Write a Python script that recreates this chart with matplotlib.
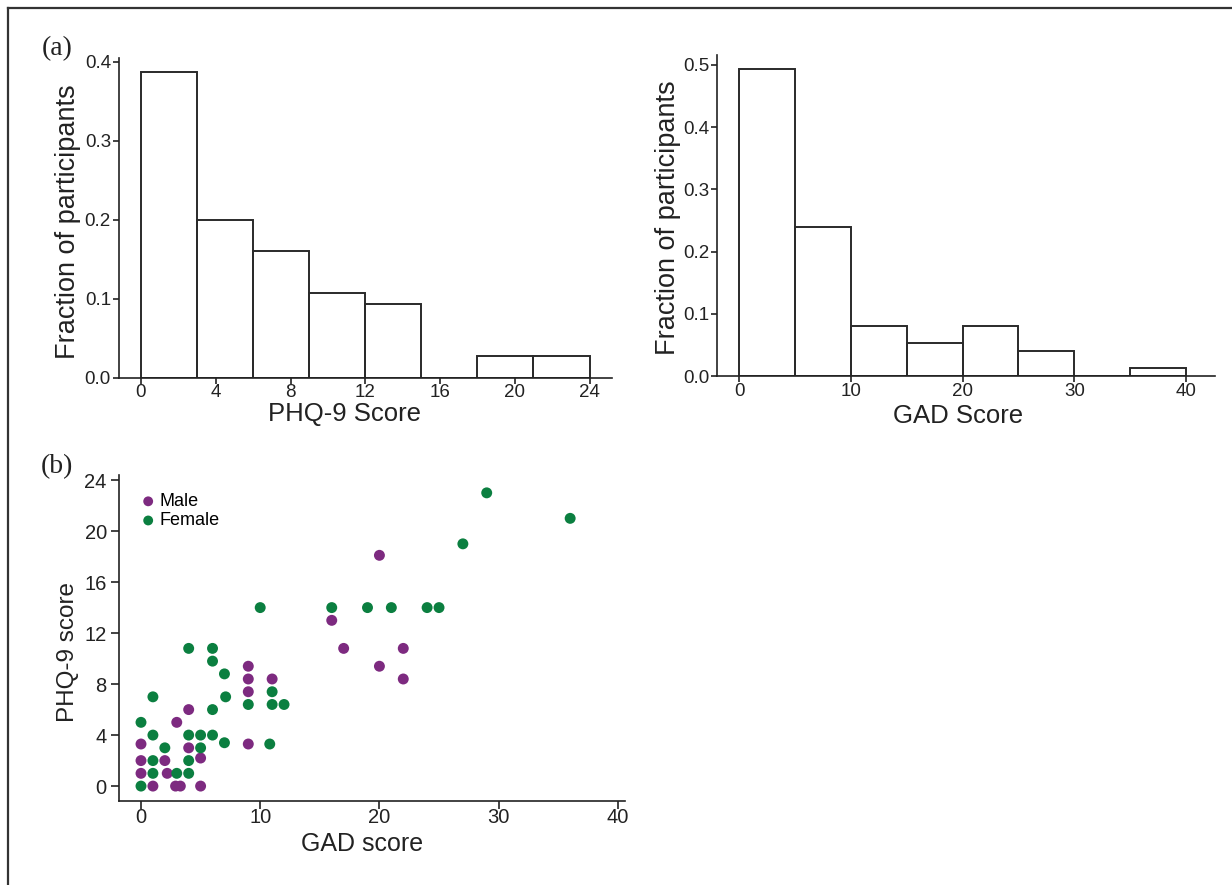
import matplotlib
matplotlib.use("Agg")
import matplotlib.pyplot as plt
from matplotlib.lines import Line2D

# ---------------- data ----------------
phq_bin_edges = [0, 3, 6, 9, 12, 15, 18, 21, 24]
phq_fraction = [0.387, 0.200, 0.160, 0.107, 0.093, 0.0, 0.027, 0.027]
phq_xticks = [0, 4, 8, 12, 16, 20, 24]
phq_yticks = [0.0, 0.1, 0.2, 0.3, 0.4]

gad_bin_edges = [0, 5, 10, 15, 20, 25, 30, 35, 40]
gad_fraction = [0.493, 0.240, 0.080, 0.053, 0.080, 0.040, 0.0, 0.013]
gad_xticks = [0, 10, 20, 30, 40]
gad_yticks = [0.0, 0.1, 0.2, 0.3, 0.4, 0.5]

male_gad = [0, 0, 0, 1, 2, 2.2, 3, 2.9, 3.3, 4, 4, 5, 5, 9, 9, 9, 9, 11,
            20, 16, 17, 22, 20, 22]
male_phq = [3.3, 2, 1, 0, 2, 1, 5, 0, 0, 6, 3, 2.2, 0, 9.4, 8.4, 7.4, 3.3, 8.4,
            18.1, 13, 10.8, 10.8, 9.4, 8.4]
female_gad = [0, 0, 1, 1, 1, 1, 2, 3, 4, 4, 4, 4, 5, 5, 6, 6, 6, 6, 7, 7.1, 7,
              10, 9, 11, 11, 12, 10.8, 29, 36, 27, 16, 19, 21, 24, 25]
female_phq = [5, 0, 7, 4, 2, 1, 3, 1, 10.8, 4, 2, 1, 4, 3, 10.8, 9.8, 6, 4, 8.8, 7, 3.4,
              14, 6.4, 7.4, 6.4, 6.4, 3.3, 23, 21, 19, 14, 14, 14, 14, 14]
sc_xticks = [0, 10, 20, 30, 40]
sc_yticks = [0, 4, 8, 12, 16, 20, 24]

# ---------------- style ----------------
W, H = 1232, 885
plt.rcParams['font.family'] = ['Liberation Sans', 'DejaVu Sans']
fig = plt.figure(figsize=(W / 100, H / 100), dpi=100)
fig.patch.set_facecolor('white')

SPINE = '#222222'
EDGE = '#2a2a2a'
PURPLE = '#7D2A80'
GREEN = '#0B7F40'


def ax_px(l, t, r, b):
    return fig.add_axes([l / W, 1 - b / H, (r - l) / W, (b - t) / H])


def style(ax, fs, length, pad_x, pad_y):
    for s in ['top', 'right']:
        ax.spines[s].set_visible(False)
    for s in ['left', 'bottom']:
        ax.spines[s].set_color(SPINE)
        ax.spines[s].set_linewidth(1.2)
    ax.tick_params(axis='x', direction='out', length=length, width=1.2,
                   color=SPINE, labelsize=fs, pad=pad_x, labelcolor='#222222')
    ax.tick_params(axis='y', direction='out', length=length, width=1.2,
                   color=SPINE, labelsize=fs, pad=pad_y, labelcolor='#222222')


# PHQ-9 histogram
ax1 = ax_px(119.3, 58.3, 612, 377.5)
ax1.bar(phq_bin_edges[:-1], phq_fraction,
        width=[phq_bin_edges[i + 1] - phq_bin_edges[i] for i in range(len(phq_fraction))],
        align='edge', fill=False, edgecolor=EDGE, linewidth=1.4)
ax1.set_xlim(-1.16, 25.2)
ax1.set_ylim(0, 0.4043)
ax1.set_xticks(phq_xticks)
ax1.set_yticks(phq_yticks)
ax1.set_yticklabels([f"{v:.1f}" for v in phq_yticks])
style(ax1, 13.5, 4, 1.0, 2)

# GAD histogram
ax2 = ax_px(716.7, 55, 1215, 376)
ax2.bar(gad_bin_edges[:-1], gad_fraction,
        width=[gad_bin_edges[i + 1] - gad_bin_edges[i] for i in range(len(gad_fraction))],
        align='edge', fill=False, edgecolor=EDGE, linewidth=1.4)
ax2.set_xlim(-2.02, 42.6)
ax2.set_ylim(0, 0.516)
ax2.set_xticks(gad_xticks)
ax2.set_yticks(gad_yticks)
ax2.set_yticklabels([f"{v:.1f}" for v in gad_yticks])
style(ax2, 13.5, 4, 1.0, 1)

# Scatter
ax3 = ax_px(119.3, 475, 625, 801)
ax3.scatter(male_gad, male_phq, s=62, color=PURPLE, edgecolors='none', label='Male', zorder=3)
ax3.scatter(female_gad, female_phq, s=62, color=GREEN, edgecolors='none', label='Female', zorder=3)
ax3.set_xlim(-1.82, 40.6)
ax3.set_ylim(-1.17, 24.4)
ax3.set_xticks(sc_xticks)
ax3.set_yticks(sc_yticks)
style(ax3, 14.5, 6, -1, 3)
ax3.legend(loc='upper left', bbox_to_anchor=(0.0, 1.0), frameon=False,
           fontsize=13, handletextpad=0.05, labelspacing=0.12,
           borderaxespad=0.6, handlelength=1.2, markerscale=0.9)

# Axis labels (figure coordinates in pixels)
def ftext(x, y, s, size, rot=0, family=None):
    kw = {}
    if family is not None:
        kw['family'] = family
    fig.text(x / W, 1 - y / H, s, ha='center', va='center', rotation=rot,
             fontsize=size, color='#222222', **kw)

ftext(68, 222, 'Fraction of participants', 19.5, rot=90)
ftext(345, 414, 'PHQ-9 Score', 18.5)
ftext(668, 218, 'Fraction of participants', 19.5, rot=90)
ftext(958, 416, 'GAD Score', 18.5)
ftext(362, 844, 'GAD score', 18)
ftext(68, 652, 'PHQ-9 score', 17.5, rot=90)
ftext(57, 49, '(a)', 20, family=['Liberation Serif', 'DejaVu Serif'])
ftext(57, 467, '(b)', 20, family=['Liberation Serif', 'DejaVu Serif'])

# Partial figure frame (top and left lines)
fig.add_artist(Line2D([8 / W, 8 / W], [0, 1 - 8 / H], transform=fig.transFigure,
                     color='#333333', linewidth=1.6))
fig.add_artist(Line2D([8 / W, 1], [1 - 8 / H, 1 - 8 / H], transform=fig.transFigure,
                     color='#333333', linewidth=1.6))

fig.savefig('out.png', dpi=100, facecolor='white')
